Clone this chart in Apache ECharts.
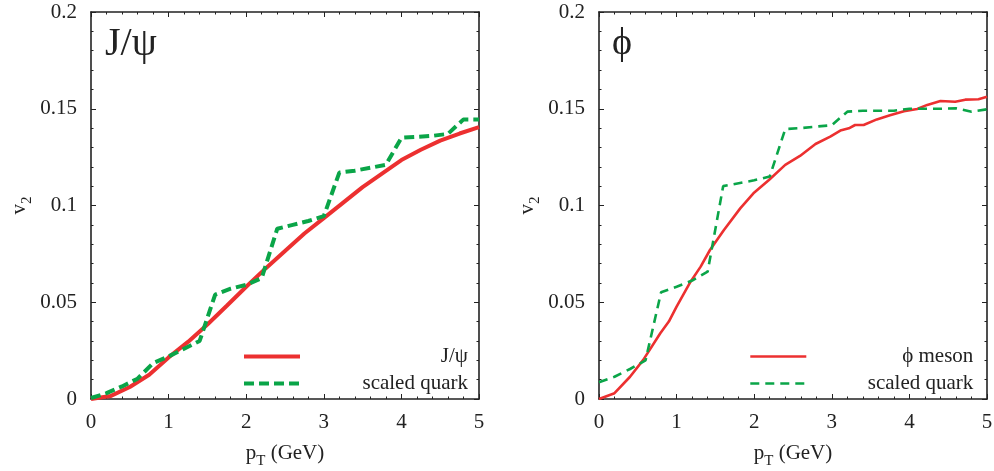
<!DOCTYPE html>
<html>
<head>
<meta charset="utf-8">
<script src="https://cdn.jsdelivr.net/npm/echarts@6/dist/echarts.min.js"></script>
<style>html,body{margin:0;padding:0;background:#fff}#c{width:994px;height:471px}</style>
</head>
<body>
<div id="c"></div>
<script>
// ---- data ----
const xTickLabels = ['0', '1', '2', '3', '4', '5'];
const yTickLabels = ['0', '0.05', '0.1', '0.15', '0.2'];

// Left panel: J/psi
const jpsiX = [0, 0.25, 0.5, 0.75, 1.0, 1.25, 1.5, 1.75, 2.0, 2.25, 2.5, 2.75, 3.0, 3.25, 3.5, 3.75, 4.0, 4.25, 4.5, 4.75, 5.0];
const jpsiV2 = [0, 0.0015, 0.0062, 0.0125, 0.0215, 0.0295, 0.0385, 0.0482, 0.058, 0.0675, 0.0765, 0.0855, 0.0935, 0.1015, 0.1095, 0.1165, 0.1235, 0.1288, 0.1335, 0.1372, 0.1405];
const quarkJX = [0, 0.2, 0.4, 0.6, 0.8, 1.0, 1.2, 1.4, 1.6, 1.8, 2.0, 2.2, 2.4, 2.6, 2.8, 3.0, 3.2, 3.4, 3.6, 3.8, 4.0, 4.2, 4.4, 4.6, 4.8, 5.0];
const quarkJV2 = [0.0005, 0.003, 0.0065, 0.0105, 0.0185, 0.022, 0.026, 0.030, 0.054, 0.057, 0.059, 0.0625, 0.088, 0.090, 0.092, 0.0945, 0.117, 0.118, 0.1195, 0.121, 0.135, 0.1355, 0.136, 0.137, 0.1445, 0.1445];

// Right panel: phi meson
const phiX = [0, 0.2, 0.4, 0.57, 0.79, 0.9, 1.0, 1.18, 1.31, 1.43, 1.61, 1.82, 1.99, 2.19, 2.4, 2.59, 2.79, 2.98, 3.11, 3.22, 3.3, 3.41, 3.58, 3.75, 3.93, 4.1, 4.23, 4.4, 4.59, 4.72, 4.89, 5.0];
const phiV2 = [0, 0.003, 0.0115, 0.0202, 0.034, 0.040, 0.0477, 0.0606, 0.0684, 0.077, 0.0873, 0.0985, 0.1063, 0.1132, 0.121, 0.1256, 0.1318, 0.1356, 0.1387, 0.1399, 0.1416, 0.1416, 0.1445, 0.1466, 0.1487, 0.1499, 0.152, 0.154, 0.1536, 0.1547, 0.1549, 0.1562];
const quarkPX = [0, 0.2, 0.4, 0.6, 0.8, 1.0, 1.2, 1.4, 1.6, 1.8, 2.0, 2.2, 2.4, 2.6, 2.8, 3.0, 3.2, 3.4, 3.6, 3.8, 4.0, 4.2, 4.4, 4.6, 4.8, 5.0];
const quarkPV2 = [0.0087, 0.0115, 0.0155, 0.020, 0.0552, 0.058, 0.0612, 0.0658, 0.110, 0.1115, 0.113, 0.115, 0.1395, 0.140, 0.1408, 0.1415, 0.1485, 0.149, 0.149, 0.149, 0.150, 0.150, 0.150, 0.1502, 0.1485, 0.1497];

const panelTitles = ['J/ψ', 'ϕ'];
const seriesNames = ['J/ψ', 'scaled quark', 'ϕ meson', 'scaled quark '];

// ---- styling ----
const FONT = "'Liberation Serif', 'DejaVu Serif', serif";
const INK = '#222';
const RED = '#ec3030';
const GREEN = '#0aa548';

function pairs(xs, ys) { return xs.map((x, i) => [x, ys[i]]); }

const tickFmtX = v => { const i = Math.round(v); return xTickLabels[i] !== undefined ? xTickLabels[i] : ''; };
const tickFmtY = v => { const i = Math.round(v / 0.05); return yTickLabels[i] !== undefined ? yTickLabels[i] : ''; };

const axisLine = { show: true, onZero: false, lineStyle: { color: INK, width: 1.6 } };
const axisTick = { show: true, inside: true, length: 5, lineStyle: { color: INK, width: 1 } };
const minorTick = { show: true, splitNumber: 5, length: 2.5, lineStyle: { color: INK, width: 1 } };
const labelStyle = { fontFamily: FONT, fontSize: 21, color: INK };

function xAxes(gi) {
  return [
    { type: 'value', gridIndex: gi, position: 'bottom', min: 0, max: 5, interval: 1,
      axisLine, axisTick, minorTick, splitLine: { show: false },
      axisLabel: Object.assign({ margin: 13, formatter: tickFmtX }, labelStyle),
      name: '{m|p}{s|T}{m| (GeV)}', nameLocation: 'middle', nameGap: 44,
      nameTextStyle: { rich: {
        m: { fontFamily: FONT, fontSize: 21, color: INK, verticalAlign: 'top', lineHeight: 24 },
        s: { fontFamily: FONT, fontSize: 15, color: INK, verticalAlign: 'top', padding: [11, 0, 0, 0], lineHeight: 17 }
      } } },
    { type: 'value', gridIndex: gi, position: 'top', min: 0, max: 5, interval: 1,
      axisLine, axisTick, minorTick, splitLine: { show: false }, axisLabel: { show: false } }
  ];
}
function yAxes(gi) {
  return [
    { type: 'value', gridIndex: gi, position: 'left', min: 0, max: 0.2, interval: 0.05,
      axisLine, axisTick, minorTick, splitLine: { show: false },
      axisLabel: Object.assign({ margin: 14, formatter: tickFmtY }, labelStyle),
      name: '{m|v}{s|2}', nameLocation: 'middle', nameGap: 58,
      nameTextStyle: { rich: {
        m: { fontFamily: FONT, fontSize: 21, color: INK, verticalAlign: 'top', lineHeight: 24 },
        s: { fontFamily: FONT, fontSize: 15, color: INK, verticalAlign: 'top', padding: [11, 0, 0, 0], lineHeight: 17 }
      } } },
    { type: 'value', gridIndex: gi, position: 'right', min: 0, max: 0.2, interval: 0.05,
      axisLine, axisTick, minorTick, splitLine: { show: false }, axisLabel: { show: false } }
  ];
}

function legendFor(names, left, textW, lw) {
  return {
    orient: 'vertical', left: left, top: 346, data: names, padding: 0,
    itemWidth: 56, itemHeight: 20, itemGap: 6,
    selectedMode: false,
    itemStyle: { color: 'rgba(0,0,0,0)', borderWidth: 0, opacity: 0 },
    lineStyle: { width: lw },
    formatter: n => '{a|' + n.trim() + '}',
    textStyle: { fontFamily: FONT, fontSize: 21, color: INK, lineHeight: 20,
      rich: { a: { fontFamily: FONT, fontSize: 21, color: INK, width: textW, align: 'right', lineHeight: 20 } } }
  };
}

const option = {
  animation: false,
  backgroundColor: '#fff',
  title: [
    { text: panelTitles[0], left: 105, top: 24, padding: 0, textStyle: { fontFamily: FONT, fontSize: 40, fontWeight: 'normal', color: INK } },
    { text: panelTitles[1], left: 612, top: 25, padding: 0, textStyle: { fontFamily: FONT, fontSize: 38, fontWeight: 'normal', color: INK } }
  ],
  grid: [
    { left: 91, right: 515, top: 12, bottom: 72, containLabel: false, outerBoundsMode: 'none' },
    { left: 599, right: 7, top: 12, bottom: 72, containLabel: false, outerBoundsMode: 'none' }
  ],
  xAxis: xAxes(0).concat(xAxes(1)),
  yAxis: yAxes(0).concat(yAxes(1)),
  legend: [
    legendFor([seriesNames[0], seriesNames[1]], 242, 163, 4),
    legendFor([seriesNames[2], seriesNames[3]], 749, 162, 2.6)
  ],
  series: [
    { name: seriesNames[0], type: 'line', xAxisIndex: 0, yAxisIndex: 0, data: pairs(jpsiX, jpsiV2),
      showSymbol: false, symbol: 'none', lineStyle: { color: RED, width: 4 }, itemStyle: { color: RED }, z: 3 },
    { name: seriesNames[1], type: 'line', xAxisIndex: 0, yAxisIndex: 0, data: pairs(quarkJX, quarkJV2),
      showSymbol: false, symbol: 'none', lineStyle: { color: GREEN, width: 4, type: [10, 5] }, itemStyle: { color: GREEN }, z: 4 },
    { name: seriesNames[2], type: 'line', xAxisIndex: 2, yAxisIndex: 2, data: pairs(phiX, phiV2),
      showSymbol: false, symbol: 'none', lineStyle: { color: RED, width: 2.6 }, itemStyle: { color: RED }, z: 3 },
    { name: seriesNames[3], type: 'line', xAxisIndex: 2, yAxisIndex: 2, data: pairs(quarkPX, quarkPV2),
      showSymbol: false, symbol: 'none', lineStyle: { color: GREEN, width: 2.6, type: [9, 6] }, itemStyle: { color: GREEN }, z: 4 }
  ]
};

const chart = echarts.init(document.getElementById('c'), null, { renderer: 'canvas' });
chart.setOption(option);
</script>
</body>
</html>
